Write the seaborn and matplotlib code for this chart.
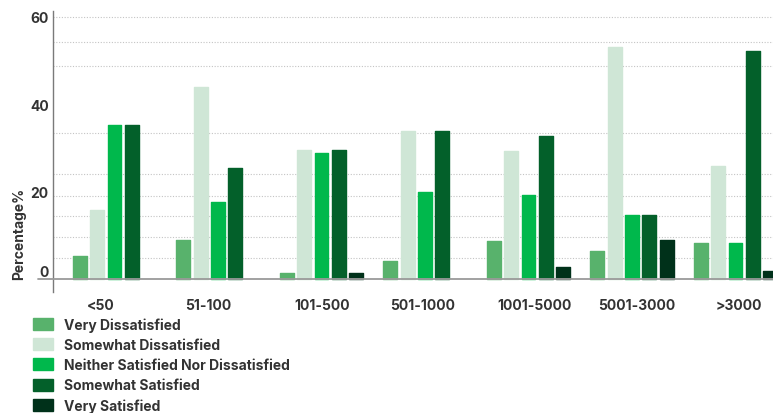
import numpy as np
import pandas as pd
import matplotlib
matplotlib.use("Agg")
import matplotlib.pyplot as plt
import matplotlib.transforms as mtransforms
from matplotlib.patches import Patch
import seaborn as sns

# Company-size groups and satisfaction shares (%)
sizes = ["<50", "51-100", "101-500", "501-1000", "1001-5000", "5001-3000", ">3000"]
levels = ["Very Dissatisfied", "Somewhat Dissatisfied",
          "Neither Satisfied Nor Dissatisfied", "Somewhat Satisfied", "Very Satisfied"]
very_dissatisfied = [5.3, 8.9, 1.4, 4.1, 8.7, 6.4, 8.2]
somewhat_dissatisfied = [15.8, 44.0, 29.5, 33.9, 29.3, 53.1, 25.9]
neutral = [35.2, 17.6, 28.8, 19.9, 19.2, 14.6, 8.2]
somewhat_satisfied = [35.2, 25.4, 29.5, 33.9, 32.7, 14.6, 52.2]
very_satisfied = [0.0, 0.0, 1.4, 0.0, 2.7, 8.9, 1.8]
y_ticks = [0, 20, 40, 60]

colors = ["#58b26c", "#cfe6d6", "#00b84c", "#03602a", "#00311a"]

df = pd.DataFrame({
    "size": np.repeat(sizes, len(levels)),
    "level": levels * len(sizes),
    "pct": np.ravel(np.column_stack([very_dissatisfied, somewhat_dissatisfied, neutral,
                                     somewhat_satisfied, very_satisfied])),
})

sns.set_theme(style="white")
plt.rcParams["font.family"] = ["Inter", "DejaVu Sans"]
text_color = "#333333"

fig = plt.figure(figsize=(7.73, 4.14), dpi=100)
ax = fig.add_axes([53 / 773, 1 - 293 / 414, 1 - 53 / 773, (293 - 12) / 414])

sns.barplot(data=df, x="size", y="pct", hue="level", order=sizes, hue_order=levels,
            palette=colors, width=0.836, gap=0.2, legend=False, ax=ax, saturation=1)

# slightly rounded bar corners
for p in ax.patches:
    if p.get_height() > 0:
        p.set_edgecolor(p.get_facecolor())
        p.set_linewidth(1.0)
        p.set_joinstyle("round")
    else:
        p.set_visible(False)

ax.set_xlim(-0.594, 6.362)
ax.set_ylim(-2.98, 61.37)

# dotted background rules
for v in [60, 54.2, 48.7, 33.4, 24.0, 19.0, 14.4, 9.6, 4.8]:
    ax.axhline(v, color="#c4c4c4", lw=0.8, ls=(0, (1, 1.5)), zorder=0)
ax.axhline(0, xmin=-0.021, xmax=1, color="#9a9a9a", lw=1.3, clip_on=False, zorder=3)

for s in ["top", "right", "bottom"]:
    ax.spines[s].set_visible(False)
ax.spines["left"].set_color("#7a7a7a")
ax.spines["left"].set_linewidth(1.0)

ax.set_yticks(y_ticks)
ax.set_yticklabels([str(t) for t in y_ticks])
ax.tick_params(axis="y", length=0, pad=3, labelsize=10, labelcolor=text_color)
for lbl in ax.get_yticklabels():
    lbl.set_fontweight("bold")
ax.get_yticklabels()[0].set_transform(
    ax.get_yticklabels()[0].get_transform()
    + mtransforms.ScaledTranslation(0, 8 / 100, fig.dpi_scale_trans))

label_shift = [-0.13, -0.09, 0.01, -0.02, 0.06, 0.05, 0.03]
ax.set_xticks(np.arange(len(sizes)) + np.array(label_shift))
ax.set_xticklabels(sizes)
ax.tick_params(axis="x", length=0, pad=4, labelsize=10, labelcolor=text_color)
for lbl in ax.get_xticklabels():
    lbl.set_fontweight("bold")

ax.set_xlabel("")
ax.set_ylabel("Percentage%", fontsize=10, fontweight="bold", color=text_color)
ax.yaxis.set_label_coords(-0.037, 0.21)

handles = [Patch(facecolor=c, edgecolor=c, linewidth=1.0, joinstyle="round") for c in colors]
fig.legend(handles, levels, loc="upper left", bbox_to_anchor=(29 / 773, 1 - 314 / 414),
           frameon=False, prop={"weight": "bold", "size": 10},
           labelcolor=text_color, handlelength=1.45, handleheight=0.95,
           handletextpad=0.75, labelspacing=0.45, borderaxespad=0, borderpad=0.3)

fig.savefig("out.png", dpi=100)
